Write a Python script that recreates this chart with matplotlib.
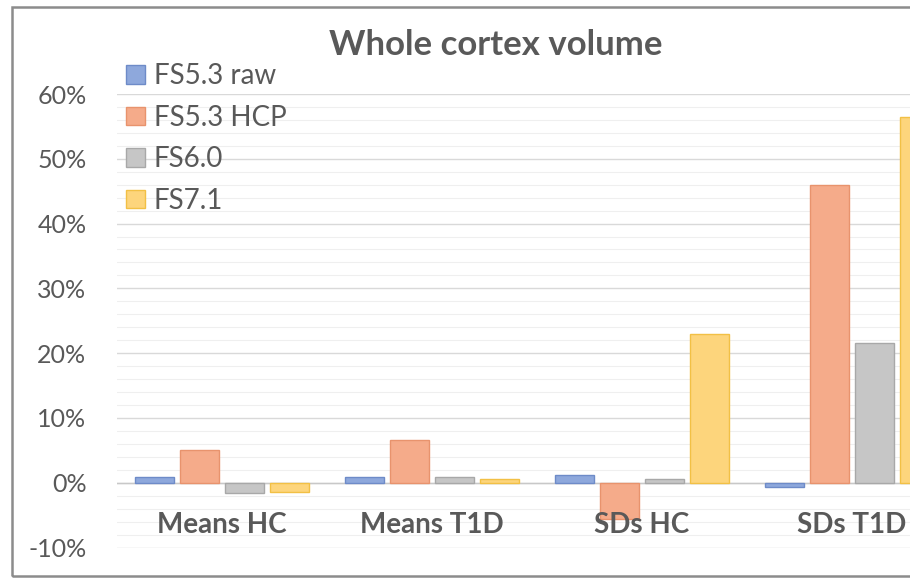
import matplotlib
matplotlib.use("Agg")
import matplotlib.pyplot as plt
from matplotlib.patches import Rectangle
from matplotlib.ticker import FuncFormatter, MultipleLocator

# Percentage differences in whole cortex volume, per pipeline
categories = ["Means HC", "Means T1D", "SDs HC", "SDs T1D"]
series_names = ["FS5.3 raw", "FS5.3 HCP", "FS6.0", "FS7.1"]
fs53_raw = [0.9, 0.9, 1.2, -0.6]
fs53_hcp = [5.0, 6.6, -5.6, 46.0]
fs60 = [-1.6, 0.9, 0.5, 21.6]
fs71 = [-1.4, 0.5, 23.0, 56.5]
series_values = [fs53_raw, fs53_hcp, fs60, fs71]

fills = ["#8EA8DC", "#F5AB8A", "#C6C6C6", "#FDD57C"]
edges = ["#6E8BC8", "#E8936D", "#A8A8A8", "#F2C045"]
text_grey = "#595959"
font = "Lato"

W, H = 910, 578
fig = plt.figure(figsize=(W / 100, H / 100), dpi=100)
fig.patch.set_facecolor("white")

# chart frame (runs off the right edge)
fig.patches.append(Rectangle((12 / W, 2 / H), 1.2, (576 - 7) / H,
                             transform=fig.transFigure, fill=False,
                             edgecolor="#8C8C8C", linewidth=1.8))

ax = fig.add_axes([117 / W, 30.5 / H, 840 / W, 453.5 / H])
ax.set_xlim(-0.5, 3.5)
ax.set_ylim(-10, 60)
for s in ax.spines.values():
    s.set_visible(False)

ax.yaxis.set_major_locator(MultipleLocator(10))
ax.yaxis.set_minor_locator(MultipleLocator(2))
ax.yaxis.set_major_formatter(FuncFormatter(lambda v, p: f"{v:.0f}%"))
ax.grid(which="major", axis="y", color="#D9D9D9", linewidth=1.0, zorder=0)
ax.grid(which="minor", axis="y", color="#EFEFEF", linewidth=0.8, zorder=0)
ax.set_axisbelow(True)
ax.tick_params(axis="y", which="both", length=0, pad=22, labelsize=18,
               labelcolor=text_grey)
for lbl in ax.get_yticklabels():
    lbl.set_fontfamily(font)
ax.set_xticks([])

ax.axhline(0, color="#C8C8C8", linewidth=1.0, zorder=1)

pitch = 0.2143
width = 0.186
for i, (name, vals) in enumerate(zip(series_names, series_values)):
    xs = [c + (i - 1.5) * pitch for c in range(len(categories))]
    ax.bar(xs, vals, width=width, color=fills[i], edgecolor=edges[i],
           linewidth=1.0, label=name, zorder=2)

for c, cat in enumerate(categories):
    ax.text(c, -6.5, cat, ha="center", va="center", fontsize=20,
            fontweight="bold", color=text_grey, family=font, zorder=5)

fig.text(496 / W, 1 - 45 / H, "Whole cortex volume", ha="center",
         va="center", fontsize=25, fontweight="bold", color=text_grey,
         family=font)

leg = ax.legend(loc="upper left", bbox_to_anchor=(126 / W, 1 - 63 / H),
                bbox_transform=fig.transFigure, frameon=False,
                prop={"family": font, "size": 20}, handlelength=0.7,
                handleheight=0.65, handletextpad=0.3, labelspacing=0.56,
                borderpad=0, borderaxespad=0)
for t in leg.get_texts():
    t.set_color(text_grey)

fig.savefig("out.png", dpi=100, facecolor="white")
